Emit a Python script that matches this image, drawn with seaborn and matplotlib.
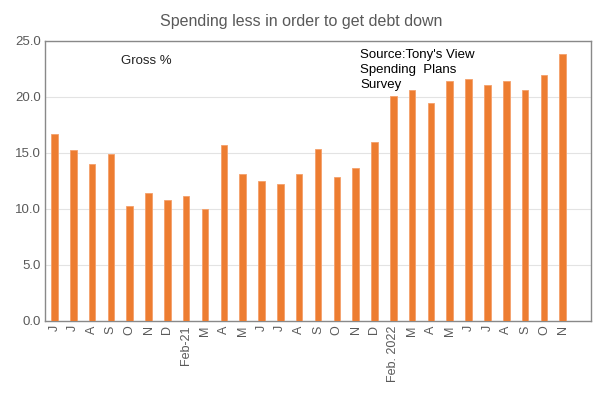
import numpy as np
import pandas as pd
import matplotlib
matplotlib.use('Agg')
import matplotlib.pyplot as plt
import seaborn as sns

months = ['J', 'J', 'A', 'S', 'O', 'N', 'D', 'Feb-21', 'M', 'A', 'M', 'J', 'J', 'A',
          'S', 'O', 'N', 'D', 'Feb. 2022', 'M', 'A', 'M', 'J', 'J', 'A', 'S', 'O', 'N']
gross_pct = [16.7, 15.3, 14.0, 14.9, 10.3, 11.4, 10.8, 11.2, 10.0, 15.7, 13.1, 12.5, 12.2, 13.1,
             15.4, 12.9, 13.7, 16.0, 20.1, 20.6, 19.5, 21.4, 21.6, 21.1, 21.4, 20.6, 22.0, 23.8]

data = pd.DataFrame({'pos': np.arange(len(months)), 'value': gross_pct})

sns.set_style('white')
plt.rcParams['font.family'] = ['Liberation Sans', 'DejaVu Sans']

fig = plt.figure(figsize=(5.96, 3.94), dpi=100)
ax = fig.add_axes([0.0755, 0.1853, 0.9161, 0.7107])

sns.barplot(x='pos', y='value', data=data, color='#ED7D31', saturation=1,
            width=0.35, native_scale=True, ax=ax, zorder=3,
            edgecolor='#F4A06A', linewidth=0.6)

ax.set_xlim(-0.5, len(months) + 0.5)
ax.set_ylim(0, 25)
ax.set_yticks([0, 5, 10, 15, 20, 25])
ax.set_yticklabels([f'{v:.1f}' for v in [0, 5, 10, 15, 20, 25]], fontsize=9.5, color='#595959')
ax.set_xticks(data['pos'])
ax.set_xticklabels(months, rotation=90, fontsize=9, color='#595959')
ax.tick_params(axis='both', length=0, pad=3)
ax.set_xlabel('')
ax.set_ylabel('')

ax.grid(axis='y', color='#e3e3e3', linewidth=0.8, zorder=0)
for side in ax.spines.values():
    side.set_color('#898989')
    side.set_linewidth(1.0)

fig.text(0.505, 0.945, 'Spending less in order to get debt down', ha='center', va='center',
         fontsize=11.5, color='#595959')
ax.text(0.14, 0.93, 'Gross %', transform=ax.transAxes, fontsize=9.5, color='#222222',
        ha='left', va='center')
ax.text(0.577, 0.97, "Source:Tony's View\nSpending  Plans\nSurvey", transform=ax.transAxes,
        fontsize=9.5, color='black', ha='left', va='top', linespacing=1.32)

plt.savefig('out.png', dpi=100)
